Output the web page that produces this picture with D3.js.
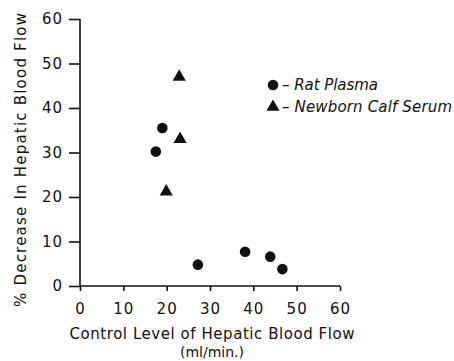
<!DOCTYPE html>
<html>
<head>
<meta charset="utf-8">
<script src="https://cdn.jsdelivr.net/npm/d3@7"></script>
<style>
  body { margin: 0; background: #fff; }
  svg { display: block; }
  text { font-family: "DejaVu Sans", sans-serif; fill: #111; }
  .axis path, .axis line { stroke: #111; stroke-width: 1.6; }
  .axis text { font-size: 15px; letter-spacing: 1px; }
  .label { font-size: 15px; }
  .unit { font-size: 14px; }
  .legend text { font-size: 15px; font-style: italic; }
</style>
</head>
<body>
<svg id="chart" width="454" height="361"></svg>
<script>
// Rat plasma points: control flow (ml/min) and % decrease
var ratX = [17.5, 19, 27.2, 38.1, 43.9, 46.7];
var ratY = [30.2, 35.5, 4.8, 7.7, 6.6, 3.8];

// Newborn calf serum points
var calfX = [22.9, 23.1, 19.9];
var calfY = [47, 33, 21.2];

var xTicks = [0, 10, 20, 30, 40, 50, 60];
var yTicks = [0, 10, 20, 30, 40, 50, 60];

var seriesNames = ['Rat Plasma', 'Newborn Calf Serum'];

var svg = d3.select('#chart');

var xScale = d3.scaleLinear().domain([0, 60]).range([80, 340]);
var yScale = d3.scaleLinear().domain([0, 60]).range([286, 19]);

var xAxis = d3.axisBottom(xScale).tickValues(xTicks).tickSize(5).tickPadding(9);
var yAxis = d3.axisLeft(yScale).tickValues(yTicks).tickSize(11).tickPadding(6);

var xAxisG = svg.append('g')
    .attr('class', 'axis')
    .attr('transform', `translate(0,${yScale(0)})`)
    .call(xAxis);
xAxisG.select('.domain').attr('d', `M${xScale(0)},0H${xScale(60)}`);
xAxisG.selectAll('text').attr('dy', '0.9em');

var yAxisG = svg.append('g')
    .attr('class', 'axis')
    .attr('transform', `translate(${xScale(0)},0)`)
    .call(yAxis);
yAxisG.select('.domain').attr('d', `M0,${yScale(60)}V${yScale(0)}`);

var tri = d3.symbol().type(d3.symbolTriangle).size(75);

svg.append('g').selectAll('circle')
  .data(ratX.map(function (x, i) { return [x, ratY[i]]; }))
  .enter().append('circle')
    .attr('cx', function (d) { return xScale(d[0]); })
    .attr('cy', function (d) { return yScale(d[1]); })
    .attr('r', 5.3)
    .attr('fill', '#111');

svg.append('g').selectAll('path')
  .data(calfX.map(function (x, i) { return [x, calfY[i]]; }))
  .enter().append('path')
    .attr('d', tri)
    .attr('transform', function (d) {
      return `translate(${xScale(d[0])},${yScale(d[1])})`;
    })
    .attr('fill', '#111');

// legend
var legend = svg.append('g').attr('class', 'legend');
legend.append('circle')
    .attr('cx', 273).attr('cy', 85).attr('r', 5.3).attr('fill', '#111');
legend.append('path')
    .attr('d', tri)
    .attr('transform', 'translate(273,107)')
    .attr('fill', '#111');
legend.selectAll('text')
  .data(seriesNames)
  .enter().append('text')
    .attr('x', 282)
    .attr('y', function (d, i) { return 90 + i * 22; })
    .attr('textLength', function (d, i) { return i ? 170 : 96; })
    .attr('lengthAdjust', 'spacing')
    .text(function (d) { return '\u2013 ' + d; });

// axis titles
svg.append('text')
    .attr('class', 'label')
    .attr('text-anchor', 'middle')
    .attr('transform', 'translate(26,160) rotate(-90)')
    .attr('textLength', 294)
    .attr('lengthAdjust', 'spacing')
    .text('% Decrease In Hepatic Blood Flow');

svg.append('text')
    .attr('class', 'label')
    .attr('text-anchor', 'middle')
    .attr('x', 212)
    .attr('y', 339)
    .attr('textLength', 285)
    .attr('lengthAdjust', 'spacing')
    .text('Control Level of Hepatic Blood Flow');

svg.append('text')
    .attr('class', 'unit')
    .attr('text-anchor', 'middle')
    .attr('x', 212)
    .attr('y', 357)
    .text('(ml/min.)');
</script>
</body>
</html>
